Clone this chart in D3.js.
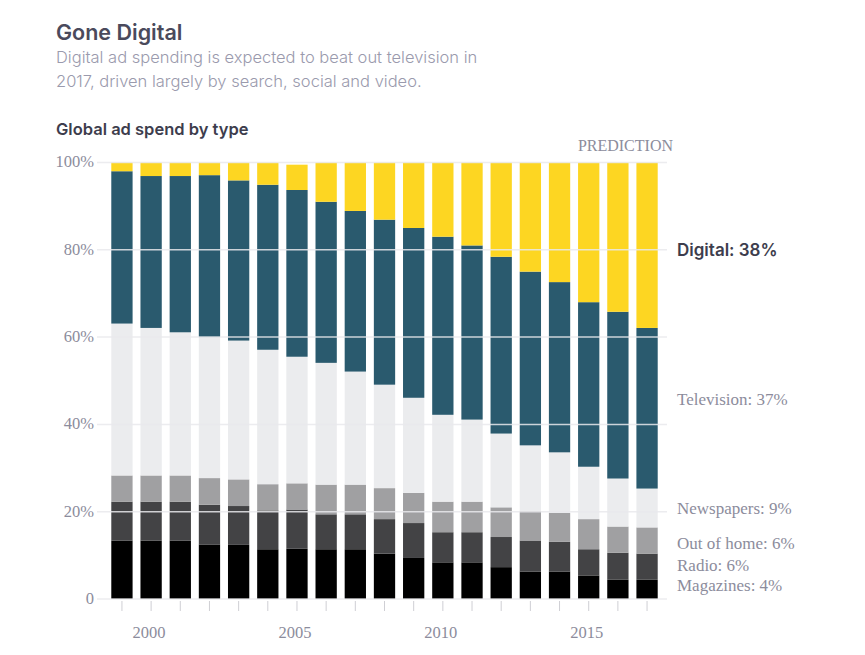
<!DOCTYPE html>
<html>
<head>
<meta charset="utf-8">
<script src="https://cdn.jsdelivr.net/npm/d3@7"></script>
<style>
    body { margin: 0; background: #fff; }
    .title { font-family: Inter, "Noto Sans", sans-serif; font-weight: 600; fill: #4a4a5c; }
    .sub { font-family: Inter, "Noto Sans", sans-serif; font-weight: 300; fill: #9a9aad; }
    .serif { font-family: "Liberation Serif", "DejaVu Serif", serif; fill: #8c8c9c; }
</style>
</head>
<body>
<svg id="chart" width="865" height="655"></svg>
<script>
// years on the x axis
var years = [1999, 2000, 2001, 2002, 2003, 2004, 2005, 2006, 2007, 2008,
             2009, 2010, 2011, 2012, 2013, 2014, 2015, 2016, 2017];

// share of global ad spend (%), bottom to top
var magazines  = [13.4, 13.4, 13.4, 12.5, 12.4, 11.4, 11.5, 11.4, 11.4, 10.4, 9.4, 8.4, 8.4, 7.3, 6.3, 6.3, 5.4, 4.4, 4.4];
var radio      = [8.9, 8.9, 8.9, 9.1, 8.9, 8.9, 9.0, 8.0, 8.0, 7.9, 8.0, 6.9, 6.9, 6.9, 7.1, 6.8, 6.0, 6.2, 6.0];
var outOfHome  = [6.0, 6.0, 6.0, 6.1, 6.1, 6.0, 6.0, 6.8, 6.8, 7.1, 6.9, 7.0, 7.0, 6.8, 6.8, 6.6, 6.9, 6.0, 6.0];
var newspapers = [34.8, 33.8, 32.8, 32.3, 31.8, 30.8, 29.0, 27.9, 25.9, 23.7, 21.8, 19.9, 18.8, 16.9, 15.0, 13.9, 12.0, 11.0, 8.9];
var television = [34.9, 34.8, 35.8, 37.1, 36.7, 37.8, 38.2, 36.9, 36.8, 37.8, 38.9, 40.8, 39.9, 40.5, 39.8, 39.0, 37.7, 38.2, 36.8];
var digital    = [2.0, 3.1, 3.1, 2.9, 4.1, 5.1, 5.8, 9.0, 11.1, 13.1, 15.0, 17.0, 19.0, 21.6, 25.0, 27.4, 32.0, 34.2, 37.9];

var seriesKeys   = ["Magazines", "Radio", "Out of home", "Newspapers", "Television", "Digital"];
var seriesValues = [magazines, radio, outOfHome, newspapers, television, digital];
var seriesColors = ["#000000", "#434345", "#a0a0a2", "#ebecee", "#2a5a6e", "#fdd622"];

var yTicks = [0, 20, 40, 60, 80, 100];
var xLabelYears = [2000, 2005, 2010, 2015];

/**
 * builds the rows d3.stack wants: one object per year
 */
var rows = years.map(function(y, i) {
    var r = {year: y};
    seriesKeys.forEach(function(k, j) { r[k] = seriesValues[j][i]; });
    return r;
});

var svg = d3.select("#chart");

var plot = {left: 97, right: 667, top: 162.5, bottom: 599};

var x = d3.scaleBand()
    .domain(years)
    .range([104, 665])
    .paddingInner(0.27)
    .paddingOuter(0.25);

var y = d3.scaleLinear()
    .domain([0, 100])
    .range([plot.bottom, plot.top]);

var color = d3.scaleOrdinal().domain(seriesKeys).range(seriesColors);

////////// HEADER //////////

svg.append("text").attr("class", "title")
    .attr("x", 56).attr("y", 40)
    .style("font-size", "21.5px")
    .text("Gone Digital");

svg.append("text").attr("class", "sub")
    .attr("x", 56).attr("y", 63)
    .style("font-size", "16.5px")
    .text("Digital ad spending is expected to beat out television in");
svg.append("text").attr("class", "sub")
    .attr("x", 56).attr("y", 87)
    .style("font-size", "16.5px")
    .text("2017, driven largely by search, social and video.");

svg.append("text").attr("class", "title")
    .attr("x", 56).attr("y", 135)
    .style("font-size", "16.5px")
    .style("fill", "#3d3d4d")
    .text("Global ad spend by type");

svg.append("text").attr("class", "serif")
    .attr("x", 673).attr("y", 151)
    .attr("text-anchor", "end")
    .style("font-size", "16px")
    .text("PREDICTION");

////////// BARS //////////

var stacked = d3.stack().keys(seriesKeys)(rows);

svg.append("g")
    .selectAll("g")
    .data(stacked)
    .enter()
    .append("g")
    .attr("fill", function(d) { return color(d.key); })
    .selectAll("rect")
    .data(function(d) { return d; })
    .enter()
    .append("rect")
    .attr("x", function(d) { return x(d.data.year); })
    .attr("width", x.bandwidth())
    .attr("y", function(d) { return y(d[1]); })
    .attr("height", function(d) { return y(d[0]) - y(d[1]); });

// gridlines sit on top of the bars
svg.append("g")
    .selectAll("line")
    .data(yTicks)
    .enter()
    .append("line")
    .attr("x1", plot.left).attr("x2", plot.right)
    .attr("y1", function(d) { return y(d); })
    .attr("y2", function(d) { return y(d); })
    .attr("stroke", "#e9e9ec")
    .attr("stroke-opacity", 0.85)
    .attr("stroke-width", 1.5);

////////// AXES //////////

svg.append("g")
    .selectAll("text")
    .data(yTicks)
    .enter()
    .append("text")
    .attr("class", "serif")
    .attr("x", 94)
    .attr("y", function(d) { return y(d); })
    .attr("dy", "0.3em")
    .attr("text-anchor", "end")
    .style("font-size", "16.5px")
    .text(function(d) { return d === 0 ? "0" : d + "%"; });

svg.append("g")
    .selectAll("line")
    .data(years)
    .enter()
    .append("line")
    .attr("x1", function(d) { return x(d) + x.bandwidth() / 2; })
    .attr("x2", function(d) { return x(d) + x.bandwidth() / 2; })
    .attr("y1", plot.bottom + 2)
    .attr("y2", plot.bottom + 12)
    .attr("stroke", "#cfcfd4")
    .attr("stroke-width", 1);

svg.append("g")
    .selectAll("text")
    .data(xLabelYears)
    .enter()
    .append("text")
    .attr("class", "serif")
    .attr("x", function(d) { return x(d) + x.bandwidth() / 2 - 2; })
    .attr("y", 638)
    .attr("text-anchor", "middle")
    .style("font-size", "16.5px")
    .text(function(d) { return d; });

////////// END LABELS //////////

var last = years.length - 1;
// small hand nudges (px) so the labels sit where the original puts them
var nudge = {"Digital": 5, "Television": -9, "Out of home": 3, "Radio": -2, "Magazines": -4};

var labels = stacked.map(function(s) {
    var seg = s[last];
    return {
        key: s.key,
        value: Math.round(seg[1] - seg[0]),
        pos: y((seg[0] + seg[1]) / 2) + (nudge[s.key] || 0)
    };
});

svg.append("g")
    .selectAll("text")
    .data(labels)
    .enter()
    .append("text")
    .attr("class", function(d) { return d.key === "Digital" ? "title" : "serif"; })
    .attr("x", 677)
    .attr("y", function(d) { return d.pos; })
    .attr("dy", "0.35em")
    .style("font-size", function(d) { return d.key === "Digital" ? "17px" : "17px"; })
    .style("fill", function(d) { return d.key === "Digital" ? "#3d3d4d" : null; })
    .text(function(d) { return d.key + ": " + d.value + "%"; });
</script>
</body>
</html>
